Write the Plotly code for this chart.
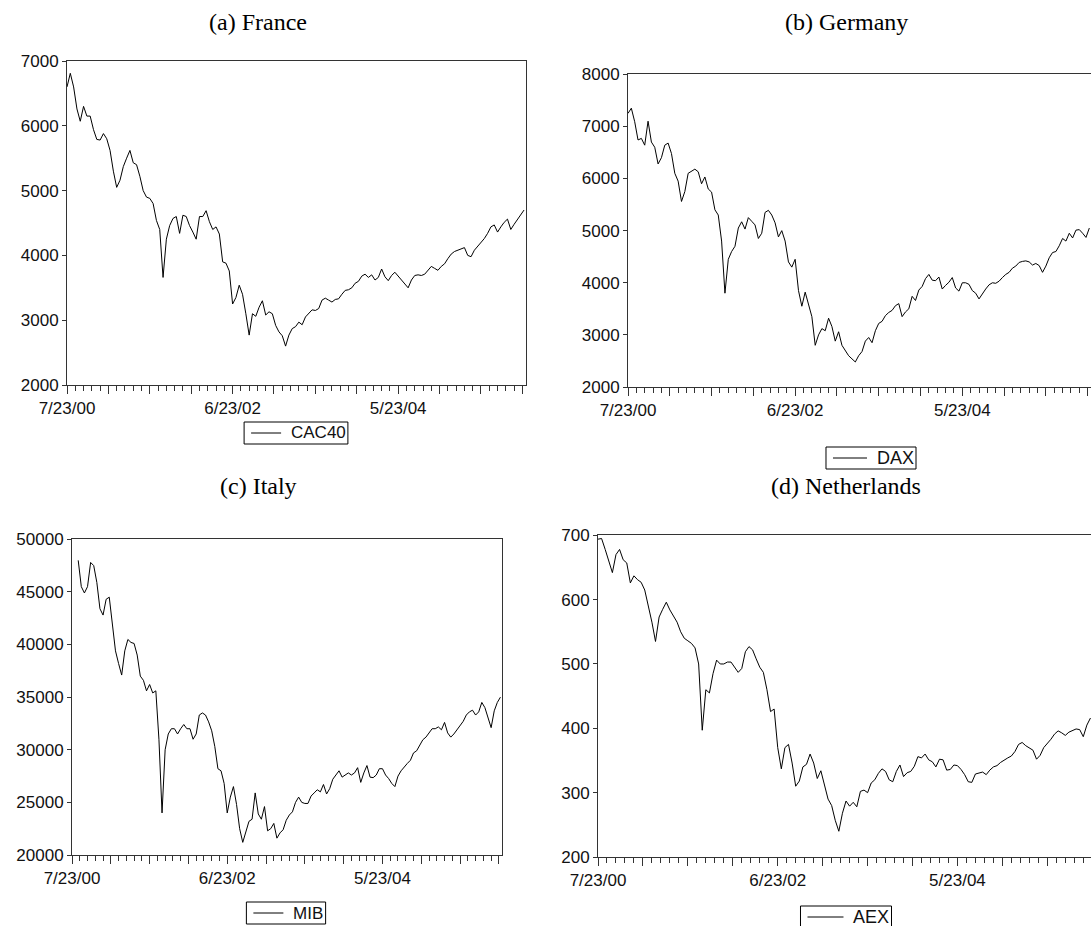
import plotly.graph_objects as go
import pandas as pd

START = "2000-07-23"
STEP = "14D"

# Bi-weekly index levels (first value = week of 7/23/00)
cac40 = [6600, 6810, 6600, 6260, 6070, 6300, 6150, 6150, 5940, 5790,
         5780, 5880, 5800, 5620, 5300, 5050, 5160, 5370, 5500, 5620,
         5430, 5400, 5220, 5000, 4900, 4880, 4800, 4540, 4400, 3660,
         4250, 4460, 4570, 4600, 4340, 4620, 4600, 4460, 4360, 4250,
         4600, 4600, 4690, 4520, 4400, 4440, 4330, 3900, 3880, 3760,
         3250, 3350, 3540, 3400, 3100, 2770, 3100, 3060, 3200, 3300,
         3080, 3130, 3100, 2920, 2820, 2760, 2600, 2770, 2870, 2900,
         2970, 2930, 3050, 3100, 3160, 3150, 3180, 3310, 3340, 3310,
         3280, 3320, 3330, 3400, 3460, 3470, 3500, 3570, 3600, 3680,
         3710, 3660, 3700, 3620, 3660, 3790, 3670, 3610, 3690, 3740,
         3680, 3630, 3560, 3500, 3620, 3690, 3700, 3690, 3710, 3770,
         3830, 3800, 3770, 3830, 3870, 3950, 4020, 4060, 4080, 4110,
         4120, 4000, 3980, 4080, 4140, 4190, 4260, 4340, 4440, 4470,
         4360, 4440, 4510, 4560, 4400, 4480, 4560, 4640, 4700]

dax = [7250, 7350, 7090, 6740, 6770, 6640, 7100, 6700, 6600, 6280,
       6400, 6640, 6680, 6480, 6100, 5950, 5560, 5750, 6100, 6140,
       6180, 6130, 5900, 6030, 5800, 5740, 5400, 5300, 4800, 3800,
       4450, 4600, 4700, 5050, 5170, 5030, 5250, 5180, 5110, 4850,
       4950, 5350, 5390, 5300, 5150, 4880, 5000, 4800, 4400, 4300,
       4450, 3850, 3550, 3820, 3600, 3350, 2800, 3000, 3120, 3080,
       3320, 3160, 2880, 3060, 2800, 2710, 2600, 2540, 2480, 2600,
       2680, 2880, 2950, 2850, 3080, 3220, 3260, 3370, 3430, 3470,
       3560, 3600, 3350, 3440, 3500, 3740, 3660, 3860, 3930, 4080,
       4160, 4050, 4040, 4110, 3880, 3950, 4010, 4100, 3900, 3840,
       4000, 4000, 3970, 3850, 3800, 3690, 3790, 3880, 3960, 4000,
       3990, 4030, 4100, 4160, 4200, 4280, 4320, 4390, 4410, 4420,
       4400, 4340, 4370, 4330, 4200, 4320, 4480, 4580, 4600, 4710,
       4850, 4800, 4950, 4860, 5010, 5020, 4950, 4870, 5050]

mib = [None, None, 48000, 45500, 44900, 45500, 47800, 47500, 45900, 43400,
       42800, 44300, 44500, 41800, 39400, 38200, 37100, 39400, 40480, 40200,
       40100, 39000, 37000, 36600, 35600, 36200, 35400, 35600, 31000, 24000,
       30000, 31500, 32000, 32000, 31500, 32000, 32400, 32000, 32000, 31000,
       31500, 33300, 33500, 33300, 32650, 31800, 30300, 28200, 28000, 26800,
       24000, 25500, 26500, 24800, 22500, 21200, 22200, 23200, 23400, 25900,
       23900, 23400, 24600, 22300, 22500, 23000, 21600, 22100, 22400, 23300,
       23800, 24100, 25000, 25500, 25000, 24900, 24900, 25600, 25900, 26200,
       26000, 26700, 25800, 26300, 27200, 27600, 28000, 27400, 27600, 27800,
       27600, 27800, 28300, 26900, 27800, 28500, 27400, 27350, 27600, 28200,
       28200, 27600, 27260, 26800, 26500, 27500, 28000, 28400, 28700, 29000,
       29700, 29900, 30400, 30950, 31200, 31600, 32000, 32000, 32170, 31900,
       32600, 31600, 31200, 31500, 31900, 32300, 32700, 33300, 33600, 33760,
       33300, 33600, 34500, 34000, 33000, 32100, 33700, 34500, 35000]

aex = [694, 695, 678, 659, 642, 670, 678, 662, 657, 626,
       637, 631, 627, 615, 592, 565, 535, 573, 585, 596,
       584, 575, 565, 550, 540, 536, 532, 525, 500, 397,
       460, 455, 485, 506, 500, 500, 503, 503, 495, 487,
       493, 519, 527, 522, 508, 495, 487, 460, 426, 430,
       370, 337, 370, 375, 346, 310, 318, 340, 344, 360,
       346, 322, 334, 310, 290, 280, 257, 240, 268, 287,
       279, 285, 278, 302, 304, 300, 315, 320, 330, 337,
       333, 320, 317, 333, 343, 325, 331, 333, 341, 356,
       354, 360, 351, 348, 340, 352, 351, 335, 336, 343,
       342, 336, 328, 317, 316, 329, 331, 332, 328, 335,
       340, 342, 347, 351, 354, 357, 364, 375, 378, 373,
       370, 366, 352, 358, 370, 376, 383, 391, 396, 393,
       389, 394, 397, 399, 398, 387, 405, 416]

tick_labels = ["7/23/00", "", "", "", "6/23/02", "", "", "",
               "5/23/04", "", "", ""]
titles = ["(a) France", "(b) Germany", "(c) Italy", "(d) Netherlands"]
names = ["CAC40", "DAX", "MIB", "AEX"]

W, H = 1091, 926
start = pd.Timestamp(START)
week = pd.Timedelta(days=7)
major_ticks = pd.date_range(START, periods=12, freq="175D")


def dates(values):
    return pd.date_range(START, periods=len(values), freq=STEP)


panels = [
    dict(s=cac40, x=(67, 525.7), y=(61, 385), yr=(2000, 7000), dt=1000, end=277, mir=True),
    dict(s=dax, x=(628, W), y=(74.3, 387), yr=(2000, 8000), dt=1000, end=277, mir=False),
    dict(s=mib, x=(72, 502), y=(539.3, 855), yr=(20000, 50000), dt=5000, end=277, mir=True),
    dict(s=aex, x=(598, W), y=(535.3, 857), yr=(200, 700), dt=100, end=274.3, mir=False),
]

fig = go.Figure()
axis_col = "#333333"
sans = "Liberation Sans, Arial, sans-serif"
tick_font = dict(family=sans, size=17, color="#111")

for i, p in enumerate(panels):
    n = "" if i == 0 else str(i + 1)
    fig.add_trace(go.Scatter(
        x=dates(p["s"]), y=p["s"], mode="lines", name=names[i],
        line=dict(color="black", width=1),
        xaxis="x" + n, yaxis="y" + n, showlegend=False,
    ))
    end = start + week * p["end"]
    fig.layout["xaxis" + n] = dict(
        domain=[p["x"][0] / W, min(p["x"][1] / W, 1.0)],
        anchor="y" + n, type="date", automargin=False,
        range=[start, end],
        tickmode="array", tickvals=list(major_ticks), ticktext=tick_labels,
        ticks="outside", ticklen=8, tickwidth=1, tickcolor=axis_col,
        minor=dict(ticks="outside", ticklen=5, tickwidth=1, tickcolor=axis_col,
                   tickmode="linear", tick0=START, dtick=35 * 86400000),
        showline=True, linecolor=axis_col, linewidth=1, mirror=True,
        showgrid=False, zeroline=False, tickfont=tick_font,
        fixedrange=True,
    )
    lo, hi = p["yr"]
    fig.layout["yaxis" + n] = dict(
        domain=[1 - p["y"][1] / H, 1 - p["y"][0] / H],
        anchor="x" + n, range=[lo, hi], automargin=False,
        tickmode="linear", tick0=lo, dtick=p["dt"], tickformat="d",
        ticks="outside", ticklen=4, tickwidth=1, tickcolor=axis_col,
        showline=True, linecolor=axis_col, linewidth=1, mirror=p["mir"],
        showgrid=False, zeroline=False, tickfont=tick_font,
        fixedrange=True,
    )

# Hand-made legend boxes: (box centre x, box top y, font size, sample length)
char_w = {"C": 0.722, "A": 0.667, "4": 0.556, "0": 0.556, "D": 0.722,
          "X": 0.667, "M": 0.833, "I": 0.278, "B": 0.667, "E": 0.667}
legend_spec = [(296, 422, 17, 30), (871, 447, 18, 34),
               (286, 902, 17, 30), (846, 906, 18, 36)]
box_h = 22
for name, (cx, top, fs, line_w) in zip(names, legend_spec):
    tw = sum(char_w[c] for c in name) * fs
    pad_l, gap, pad_r = 7, 9, 3
    bw = pad_l + line_w + gap + tw + pad_r
    x0 = cx - bw / 2
    x1 = cx + bw / 2
    y0, y1 = top, top + box_h
    fig.add_shape(type="rect", xref="paper", yref="paper",
                  x0=x0 / W, x1=x1 / W, y0=1 - y1 / H, y1=1 - y0 / H,
                  line=dict(color="black", width=1), fillcolor="white")
    ly = top + box_h / 2
    fig.add_shape(type="line", xref="paper", yref="paper",
                  x0=(x0 + pad_l) / W, x1=(x0 + pad_l + line_w) / W,
                  y0=1 - ly / H, y1=1 - ly / H,
                  line=dict(color="black", width=1))
    fig.add_annotation(text=name, x=(x0 + pad_l + line_w + gap) / W, y=1 - ly / H,
                       xref="paper", yref="paper", xanchor="left", yanchor="middle",
                       showarrow=False, borderpad=0,
                       font=dict(family=sans, size=fs, color="#111"))

title_pos = [(258, 22), (846, 22), (258, 486), (846, 486)]
for t, (tx, ty) in zip(titles, title_pos):
    fig.add_annotation(
        text=t, x=tx / W, y=1 - ty / H, xref="paper", yref="paper",
        xanchor="center", yanchor="middle", showarrow=False,
        font=dict(family="Liberation Serif, Times New Roman, serif", size=24, color="black"),
    )

fig.update_layout(
    width=W, height=H, margin=dict(l=0, r=0, t=0, b=0, autoexpand=False),
    paper_bgcolor="white", plot_bgcolor="white",
    showlegend=False,
)

fig.write_html("out.html")
